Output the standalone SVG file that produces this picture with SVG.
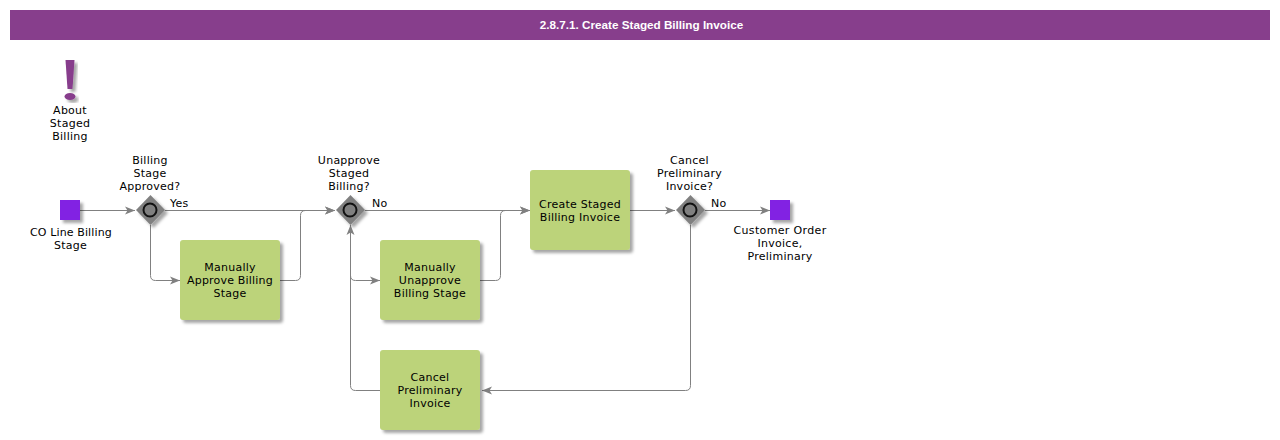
<svg xmlns="http://www.w3.org/2000/svg" width="1280" height="440" viewBox="0 0 1280 440">
<style>
text{font-family:"DejaVu Sans",sans-serif;font-size:11px;letter-spacing:.25px;fill:#000;text-anchor:middle}
.title{font-family:"Liberation Sans",Arial,sans-serif;font-size:11.7px;letter-spacing:0;font-weight:bold;fill:#fff}
.c{fill:none;stroke:#808080;stroke-width:1}
.task{fill:#bcd37a;filter:url(#sh)}
.ev{fill:#8224e3;filter:url(#sh)}
.gw{fill:#808080;filter:url(#sh)}
.ring{fill:#808080;stroke:#111;stroke-width:2}
.lab{text-anchor:start}
</style>
<defs>
<filter id="sh" x="-20%" y="-20%" width="150%" height="150%"><feDropShadow dx="3" dy="3" stdDeviation="1.5" flood-color="#000" flood-opacity="0.35"/></filter>
<marker id="a" markerUnits="userSpaceOnUse" markerWidth="11" markerHeight="10" refX="10" refY="5" orient="auto"><path d="M0 1 L10 5 L0 9 L2.500 5Z" fill="#808080"/></marker>
</defs>
<g id="header"><rect x="10" y="10" width="1260" height="30" fill="#873e8c"/><text class="title" x="641.500" y="29">2.8.7.1. Create Staged Billing Invoice</text></g>
<g id="connectors">
<path class="c" d="M80 210.500H135" marker-end="url(#a)"/>
<path class="c" d="M165 210.500H335" marker-end="url(#a)"/>
<path class="c" d="M150.500 225V275.500Q150.500 280.500 155.500 280.500H180" marker-end="url(#a)"/>
<path class="c" d="M280 280.500H295.500Q300.500 280.500 300.500 275.500V215.500Q300.500 210.500 305.500 210.500H335" marker-end="url(#a)"/>
<path class="c" d="M365 210.500H530" marker-end="url(#a)"/>
<path class="c" d="M350.500 275.500Q350.500 280.500 355.500 280.500H380" marker-end="url(#a)"/>
<path class="c" d="M480 280.500H495.500Q500.500 280.500 500.500 275.500V215.500Q500.500 210.500 505.500 210.500H530" marker-end="url(#a)"/>
<path class="c" d="M630 210.500H675" marker-end="url(#a)"/>
<path class="c" d="M705 210.500H770" marker-end="url(#a)"/>
<path class="c" d="M690.500 225V385.500Q690.500 390.500 685.500 390.500H482" marker-end="url(#a)"/>
<path class="c" d="M380 390.500H355.500Q350.500 390.500 350.500 385.500V225" marker-end="url(#a)"/>
</g>
<g id="about">
<path d="M65.500 60H74.500L72.500 89H67.500Z" fill="#873e8c" filter="url(#sh)"/><ellipse cx="70" cy="96.500" rx="5.500" ry="3.500" fill="#873e8c" filter="url(#sh)"/>
<text x="70" y="114">About</text><text x="70" y="127">Staged</text><text x="70" y="140">Billing</text>
</g>
<g id="start"><rect class="ev" x="60" y="200" width="20" height="20"/><text x="71" y="236" textLength="82">CO Line Billing</text><text x="70.500" y="249">Stage</text></g>
<g id="gw1"><path class="gw" d="M150.500 195L165 210L150.500 225L136 210Z"/><circle class="ring" cx="150" cy="210" r="6.500"/><text x="150" y="164">Billing</text><text x="150" y="177">Stage</text><text x="150" y="190">Approved?</text><text class="lab" x="170" y="207">Yes</text></g>
<g id="task1"><rect class="task" x="180" y="240" width="100" height="80" rx="3"/><text x="230" y="271">Manually</text><text x="230" y="284" textLength="86">Approve Billing</text><text x="230" y="297">Stage</text></g>
<g id="gw2"><path class="gw" d="M350.500 195L365 210L350.500 225L336 210Z"/><circle class="ring" cx="350" cy="210" r="6.500"/><text x="349" y="164">Unapprove</text><text x="349" y="177">Staged</text><text x="349" y="190">Billing?</text><text class="lab" x="372" y="207">No</text></g>
<g id="task2"><rect class="task" x="380" y="240" width="100" height="80" rx="3"/><text x="430" y="271">Manually</text><text x="430" y="284">Unapprove</text><text x="430" y="297">Billing Stage</text></g>
<g id="task3"><rect class="task" x="380" y="350" width="100" height="80" rx="3"/><text x="430" y="381">Cancel</text><text x="430" y="394">Preliminary</text><text x="430" y="407">Invoice</text></g>
<g id="task4"><rect class="task" x="530" y="170" width="100" height="80" rx="3"/><text x="580" y="208">Create Staged</text><text x="580" y="221">Billing Invoice</text></g>
<g id="gw3"><path class="gw" d="M690.500 195L705 210L690.500 225L676 210Z"/><circle class="ring" cx="690" cy="210" r="6.500"/><text x="689.500" y="164">Cancel</text><text x="689.500" y="177">Preliminary</text><text x="689.500" y="190">Invoice?</text><text class="lab" x="711" y="207">No</text></g>
<g id="end"><rect class="ev" x="770" y="200" width="20" height="20"/><text x="780" y="234" textLength="93">Customer Order</text><text x="780" y="247">Invoice,</text><text x="780" y="260">Preliminary</text></g>
</svg>
